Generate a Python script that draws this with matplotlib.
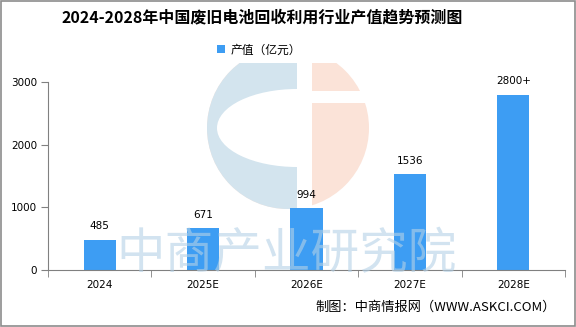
import matplotlib.pyplot as plt
from matplotlib.patches import Circle, Ellipse, Rectangle
import numpy as np

plt.rcParams['font.family'] = ['Noto Sans CJK SC', 'DejaVu Sans']

years = ['2024', '2025E', '2026E', '2027E', '2028E']
values = [485, 671, 994, 1536, 2800]
labels = ['485', '671', '994', '1536', '2800+']

bar_color = '#3d9df3'

fig = plt.figure(figsize=(5.76, 3.27), dpi=100)
fig.patches.append(Rectangle((0.002, 0.003), 0.996, 0.994, transform=fig.transFigure,
                             fill=False, edgecolor='#8c8c8c', linewidth=1.2))

# logo watermark behind the plot, cut off above the plot area
logo = fig.add_axes([0, 0, 1, 1 - 63 / 327], zorder=0)
logo.set_xlim(0, 576)
logo.set_ylim(327, 63)
logo.axis('off')
ring = Circle((288, 128), 81, color='#fbe3d8', lw=0)
logo.add_patch(ring)
left = Rectangle((200, 40), 97, 180, color='#d3e4ee', lw=0)
logo.add_patch(left)
left.set_clip_path(ring)
hole = Ellipse((297, 128), 160, 78, color='white', lw=0)
logo.add_patch(hole)
hole.set_clip_path(left)
logo.add_patch(Rectangle((297, 40), 15, 180, color='white', lw=0))
logo.add_patch(Rectangle((312, 91), 60, 12, color='white', lw=0))

ax = fig.add_axes([48 / 576, 1 - 270 / 327, (565 - 48) / 576, (270 - 82) / 327], zorder=1)
ax.patch.set_alpha(0)
x = np.arange(len(years))
ax.bar(x, values, width=0.31, color=bar_color, label='产值（亿元）', zorder=2)
for xi, v, t in zip(x, values, labels):
    ax.text(xi, v + 130, t, ha='center', va='bottom', fontsize=7.5, family='DejaVu Sans')

ax.set_xlim(-0.5, len(years) - 0.5)
ax.set_ylim(0, 3000)
ax.set_yticks([0, 1000, 2000, 3000])
ax.set_xticks(x)
ax.set_xticklabels(years)
ax.set_xticks(np.arange(-0.5, len(years)), minor=True)
ax.tick_params(axis='x', which='major', length=0, pad=7, labelsize=7.5)
ax.tick_params(axis='x', which='minor', length=5, color='#808080', direction='out')
ax.tick_params(axis='y', length=5, color='#808080', labelsize=7.5, pad=3)
for lab in ax.get_xticklabels() + ax.get_yticklabels():
    lab.set_family('DejaVu Sans')
for s in ['top', 'right']:
    ax.spines[s].set_visible(False)
for s in ['left', 'bottom']:
    ax.spines[s].set_color('#808080')

ax.legend(loc='lower center', bbox_to_anchor=(0.408, 1.08), frameon=False, fontsize=8.5,
          handlelength=0.7, handleheight=0.7, handletextpad=0.4)

# text watermark over the bars
fig.text(287 / 576, 1 - 254 / 327, '中商产业研究院', ha='center', va='center',
         fontsize=35, color='#b5d1e6', alpha=0.6, zorder=3)

fig.text(262 / 576, 1 - 17 / 327, '2024-2028年中国废旧电池回收利用行业产值趋势预测图',
         ha='center', va='center', fontsize=11.5, fontweight='bold')
fig.text(436 / 576, 1 - 307 / 327, '制图：中商情报网（WWW.ASKCI.COM）',
         ha='center', va='center', fontsize=9.5)

fig.savefig('out.png', dpi=100)
